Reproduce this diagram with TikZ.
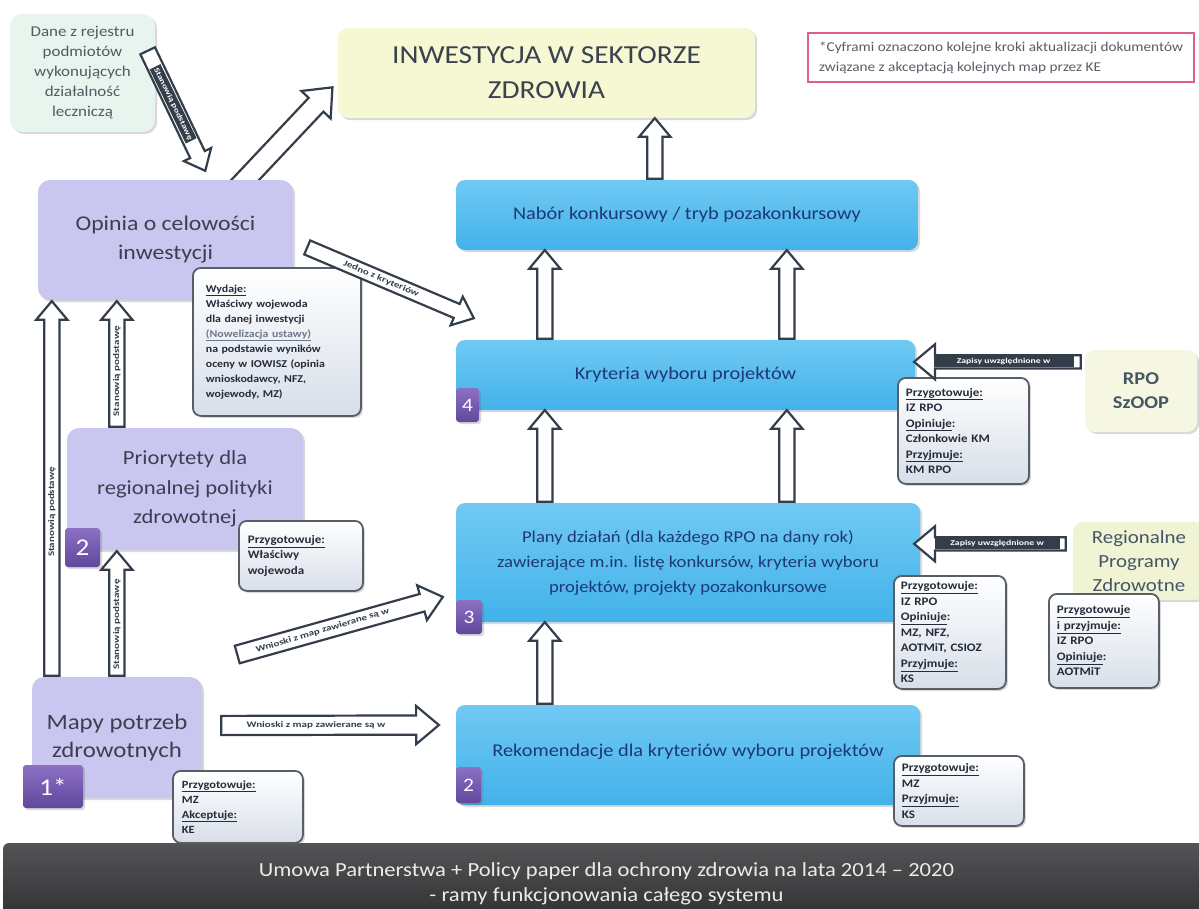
\documentclass[tikz,border=0pt]{standalone}
\usepackage{fontspec}
\setmainfont{Carlito}[FakeStretch=1.13]
\usepackage{graphicx}
\usetikzlibrary{shapes.arrows,calc,shadows}
\pgfdeclarelayer{bg}
\pgfsetlayers{bg,main}
\definecolor{arrowc}{RGB}{52,62,74}
\definecolor{lav}{RGB}{201,199,239}
\definecolor{lavtext}{RGB}{62,62,82}
\definecolor{skyA}{RGB}{112,201,243}
\definecolor{skyB}{RGB}{66,178,234}
\definecolor{navy}{RGB}{30,56,118}
\definecolor{purA}{RGB}{140,112,196}
\definecolor{purB}{RGB}{96,72,156}
\definecolor{yel}{RGB}{245,248,210}
\definecolor{yeltext}{RGB}{58,66,78}
\definecolor{mint}{RGB}{232,245,238}
\definecolor{danetext}{RGB}{82,90,98}
\definecolor{annbot}{RGB}{216,222,233}
\definecolor{annline}{RGB}{88,94,104}
\definecolor{anntext}{RGB}{36,44,58}
\definecolor{nowcol}{RGB}{110,122,140}
\definecolor{pinkb}{RGB}{222,96,134}
\definecolor{notetext}{RGB}{92,92,104}
\definecolor{barA}{RGB}{84,84,86}
\definecolor{barB}{RGB}{46,46,48}
\definecolor{rpoc}{RGB}{246,247,226}
\definecolor{rpotext}{RGB}{70,86,100}
\definecolor{regc}{RGB}{240,243,212}
\newcommand\barr[4][]{%
  \path let \p1=($(#4)-(#3)$), \n1={atan2(\y1,\x1)}, \n2={veclen(\x1,\y1)} in
    node[barrow,#1,minimum height=\n2,rotate=\n1] (#2) at (#3) {};}
\newcommand\stlab[1]{\scalebox{1.15}[1]{#1}}
\tikzset{
  shad/.style={drop shadow={shadow xshift=2pt, shadow yshift=-2pt, opacity=0.25, fill=black!60}},
  sz/.style 2 args={minimum width=#1pt, minimum height=#2pt},
  lavbox/.style={rectangle, rounded corners=12pt, fill=lav, shad, inner sep=0pt, align=center, text=lavtext},
  bluebox/.style={rectangle, rounded corners=9pt, top color=skyA, bottom color=skyB, shad, inner sep=0pt, align=center, text=navy},
  badge/.style={rectangle, rounded corners=3pt, top color=purA, bottom color=purB, text=white, inner sep=0pt, font=\fontsize{19}{20}\selectfont, shad},
  ann/.style={rectangle, rounded corners=8pt, draw=annline, line width=1.8pt, top color=white, bottom color=annbot, text=anntext, align=left, anchor=north west, inner sep=0pt, font=\fontsize{11.5}{15.5}\selectfont\bfseries, shad},
  barrow/.style={single arrow, draw=arrowc, fill=white, line width=2.2pt, inner sep=0pt, text height=6.5pt, text depth=6.5pt, single arrow head extend=8pt, single arrow tip angle=80, single arrow head indent=0pt, anchor=tail},
  alabel/.style={inner sep=0.5pt, text=arrowc, font=\fontsize{8.5}{9}\selectfont\bfseries},
  dlabel/.style={inner xsep=1.5pt, inner ysep=0.5pt, fill=arrowc, text=white, font=\fontsize{7.5}{8}\selectfont\bfseries},
}
\begin{document}
\begin{tikzpicture}[x=1pt,y=-1pt]
\useasboundingbox (0,0) rectangle (1199,908);
\begin{pgfonlayer}{bg}
\fill[white] (0,0) rectangle (1199,908);
\end{pgfonlayer}

% ---------- boxes ----------
\node[rectangle, rounded corners=12pt, fill=mint, shad, sz={145}{118}, inner sep=0pt, align=center, text=danetext, font=\fontsize{15}{20}\selectfont] (dane) at (82.5,73) {Dane z rejestru\\podmiotów\\wykonujących\\działalność\\leczniczą};
\node[rectangle, rounded corners=10pt, fill=yel, shad, sz={417}{90}, inner sep=0pt, align=center, text=yeltext, font=\fontsize{26}{35}\selectfont] (inwest) at (546.5,73) {INWESTYCJA W SEKTORZE\\ZDROWIA};
\node[rectangle, draw=pinkb, line width=2pt, fill=white, sz={386}{49}, inner sep=0pt, align=left, text=notetext, font=\fontsize{13.5}{20}\selectfont] (note) at (1001,57.5) {*Cyframi oznaczono kolejne kroki aktualizacji dokumentów\\związane z akceptacją kolejnych map przez KE};

\node[lavbox, sz={255}{120}, font=\fontsize{21}{29}\selectfont] (opinia) at (165.5,240) {Opinia o celowości\\inwestycji};
\node[lavbox, sz={236}{122}, font=\fontsize{20}{29.5}\selectfont] (prio) at (185,489) {Priorytety dla\\regionalnej polityki\\zdrowotnej};
\node[lavbox, sz={170}{121}, font=\fontsize{22}{28}\selectfont] (mapy) at (117,737.5) {Mapy potrzeb\\zdrowotnych};

\node[bluebox, sz={462}{70}, font=\fontsize{18}{22}\selectfont] (nabor) at (687,215) {Nabór konkursowy / tryb pozakonkursowy};
\node[bluebox, sz={459}{70}, font=\fontsize{18}{22}\selectfont] (kryt) at (685.5,375) {Kryteria wyboru projektów};
\node[bluebox, sz={464}{119}, font=\fontsize{16.5}{25}\selectfont] (plany) at (688,562.5) {Plany działań (dla każdego RPO na dany rok)\\zawierające m.in. listę konkursów, kryteria wyboru\\projektów, projekty pozakonkursowe};
\node[bluebox, sz={464}{100}, font=\fontsize{18}{22}\selectfont] (rek) at (688,755) {\raisebox{10pt}{Rekomendacje dla kryteriów wyboru projektów}};

\node[rectangle, rounded corners=10pt, fill=rpoc, shad, sz={112}{82}, inner sep=0pt, align=center, text=rpotext, font=\fontsize{18}{24}\selectfont\bfseries] (rpo) at (1141,391) {RPO\\SzOOP};
\node[rectangle, rounded corners=10pt, fill=regc, shad, sz={132}{78}, inner sep=0pt, align=center, text=rpotext, font=\fontsize{18.5}{24}\selectfont] (reg) at (1139,561) {Regionalne\\Programy\\Zdrowotne};

\node[rectangle, sz={1207}{82}, inner sep=0pt, rounded corners=6pt, top color=barA, bottom color=barB, text=white!92!black, align=center, font=\fontsize{20}{25}\selectfont] (bar) at (606.5,884) {Umowa Partnerstwa + Policy paper dla ochrony zdrowia na lata 2014 – 2020\\- ramy funkcjonowania całego systemu};

% ---------- badges ----------
\node[badge, sz={23}{34}] (b4) at (467.5,405) {4};
\node[badge, sz={26}{34}] (b3) at (469,617) {3};
\node[badge, sz={25}{36}] (b2r) at (468.5,785) {2};
\node[badge, sz={35}{39}, font=\fontsize{24}{24}\selectfont] (b2p) at (82.5,547.5) {2};
\node[badge, sz={60}{43}, font=\fontsize{24}{24}\selectfont] (b1) at (53,786.5) {1*};

% ---------- annotation boxes ----------
\node[ann, sz={168}{148}, text width=142pt, font=\fontsize{10.5}{15}\selectfont\bfseries] (annW) at (192,267) {\underline{Wydaje:}\\Właściwy wojewoda\\dla danej inwestycji\\{\color{nowcol}\underline{(Nowelizacja ustawy)}}\\na podstawie wyników\\oceny w IOWISZ (opinia\\wnioskodawcy, NFZ,\\wojewody, MZ)};
\node[ann, sz={124}{70}, text width=106pt] (annP) at (238,520) {\underline{Przygotowuje:}\\Właściwy\\wojewoda};
\node[ann, sz={130}{72}, text width=112pt, font=\fontsize{11}{15}\selectfont\bfseries] (annM) at (172,770) {\underline{Przygotowuje:}\\MZ\\\underline{Akceptuje:}\\KE};
\node[ann, sz={131}{106}, text width=115pt] (annK) at (897,377) {\underline{Przygotowuje:}\\IZ RPO\\\underline{Opiniuje}:\\Członkowie KM\\\underline{Przyjmuje:}\\KM RPO};
\node[ann, sz={112}{113}, text width=98pt] (annPl) at (893,575) {\underline{Przygotowuje:}\\IZ RPO\\\underline{Opiniuje}:\\MZ, NFZ,\\AOTMiT, CSIOZ\\\underline{Przyjmuje:}\\KS};
\node[ann, sz={110}{94}, text width=94pt] (annR) at (1048,593) {\underline{Przygotowuje}\\\underline{i przyjmuje:}\\IZ RPO\\\underline{Opiniuje}:\\AOTMiT};
\node[ann, sz={130}{70}, text width=114pt] (annRk) at (893,755) {\underline{Przygotowuje:}\\MZ\\\underline{Przyjmuje:}\\KS};

% ---------- connector end points ----------
\coordinate (dT) at ($(dane.north east)+(-8,36)$);
\coordinate (dH) at ($(opinia.north west)+(167,-10)$);
\coordinate (oT) at ($(opinia.north west)+(200,8)$);
\coordinate (oH) at ($(inwest.west)+(-6,15)$);
\coordinate (jT) at ($(opinia.east)+(13,7)$);
\coordinate (jH) at ($(kryt.north west)+(17,-22)$);
\coordinate (niT) at ($(nabor.north west)+(199,0)$);
\coordinate (niH) at ($(inwest.south west)+(317,1)$);
\coordinate (kn1T) at ($(kryt.north west)+(89,0)$);
\coordinate (kn1H) at ($(nabor.south west)+(89,1)$);
\coordinate (kn2T) at ($(kryt.north west)+(331,0)$);
\coordinate (kn2H) at ($(nabor.south west)+(331,1)$);
\coordinate (pk1T) at ($(plany.north west)+(89,0)$);
\coordinate (pk1H) at ($(kryt.south west)+(89,1)$);
\coordinate (pk2T) at ($(plany.north west)+(331,0)$);
\coordinate (pk2H) at ($(kryt.south west)+(331,1)$);
\coordinate (rpT) at ($(rek.north west)+(89,0)$);
\coordinate (rpH) at ($(plany.south west)+(89,1)$);
\coordinate (roT) at ($(rpo.north west)+(-3,12)$);
\coordinate (roH) at ($(kryt.north east)+(0,22)$);
\coordinate (rgT) at ($(reg.north west)+(-6,22)$);
\coordinate (rgH) at ($(plany.north east)+(-5,41)$);
\coordinate (lT) at ($(mapy.north west)+(20,0)$);
\coordinate (lH) at ($(opinia.south west)+(14,2)$);
\coordinate (mpT) at ($(mapy.north west)+(85,0)$);
\coordinate (mpH) at ($(prio.south west)+(50,2)$);
\coordinate (poT) at ($(prio.north west)+(50,0)$);
\coordinate (poH) at ($(opinia.south west)+(79,2)$);
\coordinate (mlT) at ($(mapy.north east)+(34,-22)$);
\coordinate (mlH) at ($(plany.south west)+(-14,-25)$);
\coordinate (mrT) at ($(mapy.east)+(18,-12)$);
\coordinate (mrH) at ($(rek.west)+(-18,-30)$);

% ---------- block arrows ----------
\begin{pgfonlayer}{bg}
\barr[text height=9pt,text depth=9pt,single arrow head extend=10pt]{aOI}{oT}{oH}
\end{pgfonlayer}
\barr[text height=7pt,text depth=7pt,single arrow head extend=7pt]{aDane}{dT}{dH}
\node[dlabel, rotate=-64, minimum height=12pt] (lDane) at ($(dT)!0.45!(dH)$) {\stlab{Stanowią podstawę}};

\barr{aJ}{jT}{jH}
\node[alabel, rotate=-23] (lJ) at ($(jT)!0.45!(jH)$) {\stlab{Jedno z kryteriów}};

\barr{aNI}{niT}{niH}
\barr{aKN1}{kn1T}{kn1H}
\barr{aKN2}{kn2T}{kn2H}
\barr{aPK1}{pk1T}{pk1H}
\barr{aPK2}{pk2T}{pk2H}
\barr{aRP}{rpT}{rpH}

\barr[text height=5.5pt,text depth=5.5pt,single arrow head extend=11pt]{aRPO}{roT}{roH}
\node[dlabel, minimum width=140pt, minimum height=11pt] (lRPO) at ($(roT)!0.47!(roH)$) {\stlab{Zapisy uwzględnione w}};
\barr[text height=5.5pt,text depth=5.5pt,single arrow head extend=11pt]{aREG}{rgT}{rgH}
\node[dlabel, minimum width=125pt, minimum height=11pt] (lREG) at ($(rgT)!0.46!(rgH)$) {\stlab{Zapisy uwzględnione w}};

\barr{aL}{lT}{lH}
\node[alabel, rotate=90] (lL) at ($(lT)!0.44!(lH)$) {\stlab{Stanowią podstawę}};
\barr{aMP}{mpT}{mpH}
\node[alabel, rotate=90] (lMP) at ($(mpT)!0.42!(mpH)$) {\stlab{Stanowią podstawę}};
\barr{aPO}{poT}{poH}
\node[alabel, rotate=90] (lPO) at ($(poT)!0.45!(poH)$) {\stlab{Stanowią podstawę}};

\barr[text height=8pt,text depth=8pt,single arrow head extend=9pt]{aML}{mlT}{mlH}
\node[alabel, rotate=16.7] (lML) at ($(mlT)!0.42!(mlH)$) {\stlab{Wnioski z map zawierane są w}};
\barr[text height=8.5pt,text depth=8.5pt,single arrow head extend=9.5pt]{aMR}{mrT}{mrH}
\node[alabel] (lMR) at ($(mrT)!0.44!(mrH)$) {\stlab{Wnioski z map zawierane są w}};
\end{tikzpicture}
\end{document}
